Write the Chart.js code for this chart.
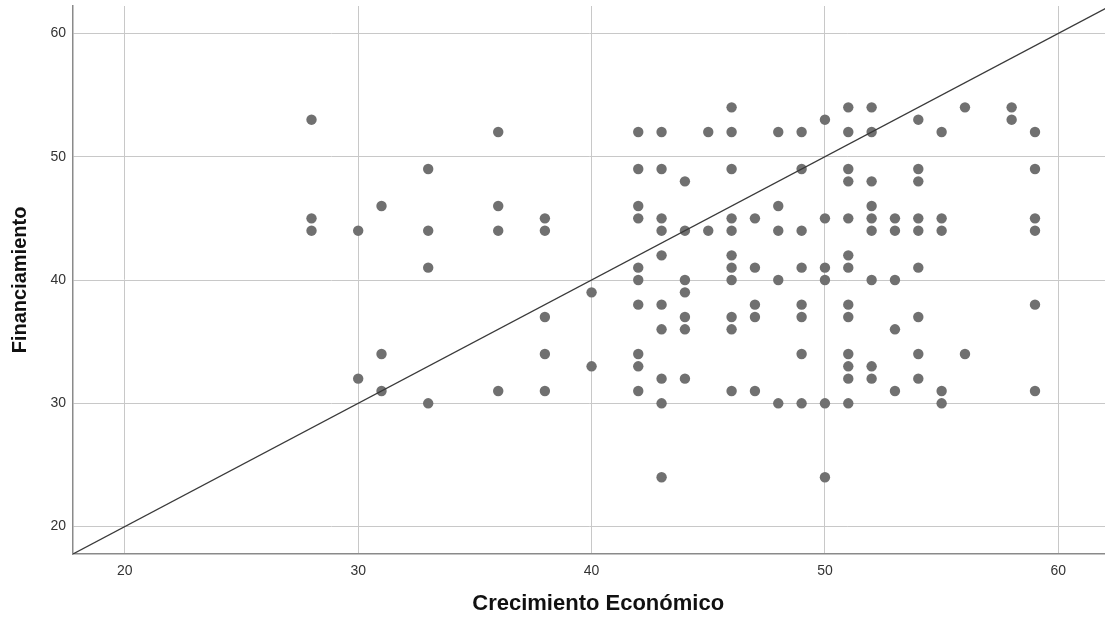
<!DOCTYPE html>
<html>
<head>
<meta charset="utf-8">
<script src="https://cdn.jsdelivr.net/npm/chart.js@4.4.0/dist/chart.umd.min.js"></script>
<style>
    html, body { margin: 0; padding: 0; background: #fff; }
    #wrap { width: 1105px; height: 623px; }
</style>
</head>
<body>
<div id="wrap"><canvas id="chart" width="1105" height="623"></canvas></div>
<script>
// ========== 数据 ==========
const crecimiento = [
    28, 28, 28,
    30, 30,
    31, 31, 31,
    33, 33, 33, 33,
    36, 36, 36, 36,
    38, 38, 38, 38, 38,
    40, 40,
    42, 42, 42, 42, 42, 42, 42, 42, 42, 42,
    43, 43, 43, 43, 43, 43, 43, 43, 43, 43,
    44, 44, 44, 44, 44, 44, 44,
    45, 45,
    46, 46, 46, 46, 46, 46, 46, 46, 46, 46, 46,
    47, 47, 47, 47, 47,
    48, 48, 48, 48, 48,
    49, 49, 49, 49, 49, 49, 49, 49,
    50, 50, 50, 50, 50, 50,
    51, 51, 51, 51, 51, 51, 51, 51, 51, 51, 51, 51, 51,
    52, 52, 52, 52, 52, 52, 52, 52, 52,
    53, 53, 53, 53, 53,
    54, 54, 54, 54, 54, 54, 54, 54, 54,
    55, 55, 55, 55, 55,
    56, 56,
    58, 58,
    59, 59, 59, 59, 59, 59
];
const financiamiento = [
    53, 45, 44,
    44, 32,
    46, 34, 31,
    49, 44, 41, 30,
    52, 46, 44, 31,
    45, 44, 37, 34, 31,
    39, 33,
    52, 49, 46, 45, 41, 40, 38, 34, 33, 31,
    52, 49, 45, 44, 42, 38, 36, 32, 30, 24,
    48, 44, 40, 39, 37, 36, 32,
    52, 44,
    54, 52, 49, 45, 44, 42, 41, 40, 37, 36, 31,
    45, 41, 38, 37, 31,
    52, 46, 44, 40, 30,
    52, 49, 44, 41, 38, 37, 34, 30,
    53, 45, 41, 40, 30, 24,
    54, 52, 49, 48, 45, 42, 41, 38, 37, 34, 33, 32, 30,
    54, 52, 48, 46, 45, 44, 40, 33, 32,
    45, 44, 40, 36, 31,
    53, 49, 48, 45, 44, 41, 37, 34, 32,
    52, 45, 44, 31, 30,
    54, 34,
    54, 53,
    52, 49, 45, 44, 38, 31
];
// 参考线 y = x 的两端
const lineaRef = [17, 63];
const xTicks = [20, 30, 40, 50, 60];
const yTicks = [20, 30, 40, 50, 60];
const xRange = [17.78, 62.0];
const yRange = [17.78, 62.22];

// ========== 绘图 ==========
const fam = '"Liberation Sans", Arial, sans-serif';
const tickFont = { family: fam, size: 14 };

new Chart(document.getElementById('chart').getContext('2d'), {
    type: 'scatter',
    data: {
        datasets: [
            {
                label: 'ref',
                data: lineaRef.map(v => ({ x: v, y: v })),
                showLine: true,
                borderColor: '#3a3a3a',
                borderWidth: 1.2,
                pointRadius: 0,
                order: 0
            },
            {
                label: 'datos',
                data: crecimiento.map((x, i) => ({ x, y: financiamiento[i] })),
                backgroundColor: '#707070',
                borderWidth: 0,
                pointRadius: 5.2,
                order: 1
            }
        ]
    },
    options: {
        responsive: false,
        animation: false,
        devicePixelRatio: 1,
        layout: { autoPadding: false, padding: { top: 6, right: 0, left: 0, bottom: 0 } },
        plugins: {
            legend: { display: false },
            tooltip: { enabled: false }
        },
        scales: {
            x: {
                type: 'linear',
                min: xRange[0],
                max: xRange[1],
                afterBuildTicks: s => { s.ticks = xTicks.map(v => ({ value: v })); },
                afterFit: s => { s.height = 69; s.paddingLeft = 0; s.paddingRight = 0; },
                grid: { color: '#c8c8c8', lineWidth: 1, drawTicks: false },
                border: { color: '#8a8a8a', width: 1.5 },
                ticks: { font: tickFont, color: '#333', padding: 9, maxRotation: 0 },
                title: {
                    display: true,
                    // 前置空格让标题略微右移, 与原图一致
                    text: '   Crecimiento Económico',
                    font: { family: fam, size: 22, weight: 'bold' },
                    color: '#111',
                    padding: { top: 0, bottom: 6 }
                }
            },
            y: {
                type: 'linear',
                min: yRange[0],
                max: yRange[1],
                afterBuildTicks: s => { s.ticks = yTicks.map(v => ({ value: v })); },
                afterFit: s => { s.width = 73; s.paddingTop = 0; s.paddingBottom = 0; },
                grid: { color: '#c8c8c8', lineWidth: 1, drawTicks: false },
                border: { color: '#8a8a8a', width: 1.5 },
                ticks: { font: tickFont, color: '#333', padding: 7 },
                title: {
                    display: true,
                    text: 'Financiamiento',
                    font: { family: fam, size: 20, weight: 'bold' },
                    color: '#111',
                    padding: { top: 8.5, bottom: 0 }
                }
            }
        }
    }
});
</script>
</body>
</html>
